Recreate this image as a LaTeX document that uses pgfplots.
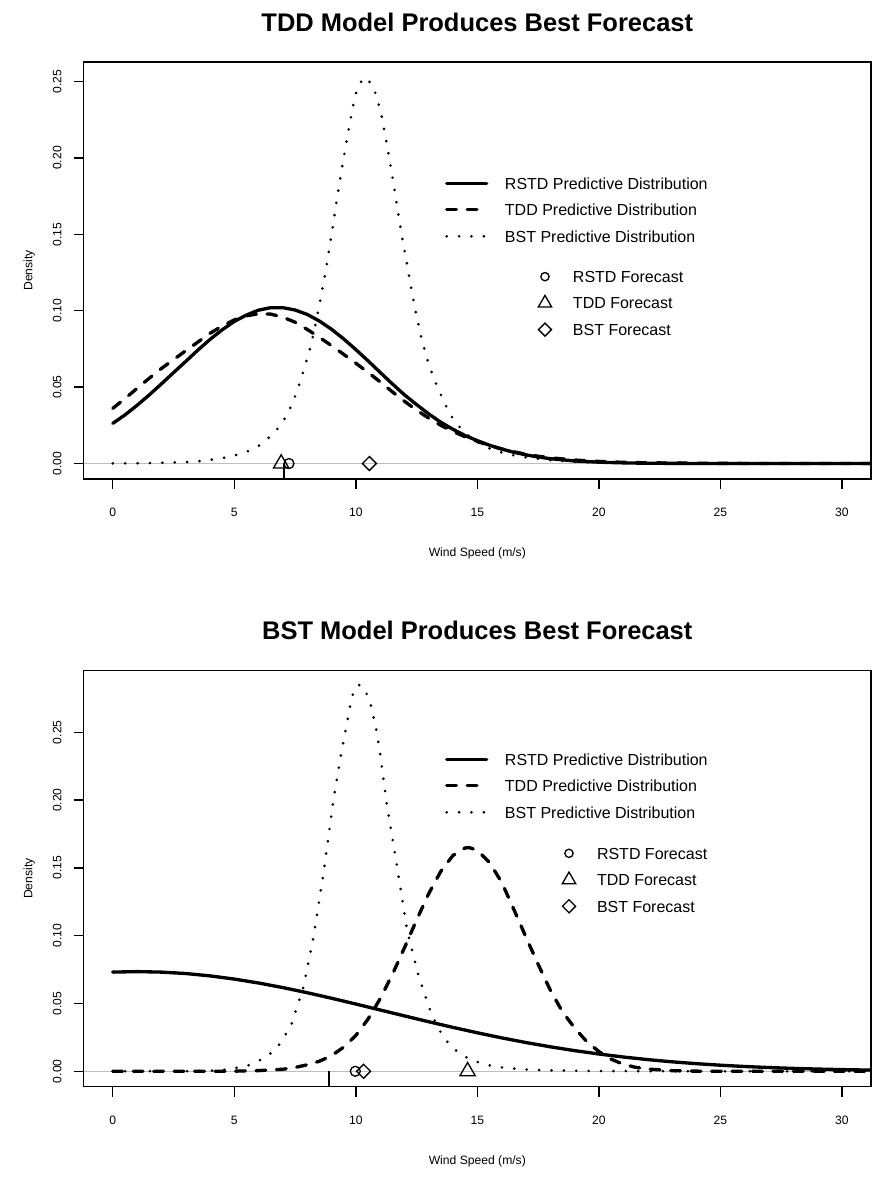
\documentclass[border=0pt]{standalone}
\usepackage{fontspec}
\setmainfont{Liberation Sans}
\usepackage{pgfplots}
\pgfplotsset{compat=1.18}
\definecolor{rgray}{HTML}{BEBEBE}
\pgfplotsset{
  common/.style={
    scale only axis, width=590.55pt,
    xmin=-1.2, xmax=31.2,
    axis line style={line width=1.1pt},
    tick style={line width=1.1pt, black},
    major tick length=7.5pt, tick align=outside,
    xtick pos=left, ytick pos=left,
    xtick={0,5,10,15,20,25,30}, xticklabels={0,5,10,15,20,25,30},
    ytick={0,0.05,0.1,0.15,0.2,0.25},
    yticklabels={0.00,0.05,0.10,0.15,0.20,0.25},
    ticklabel style={font=\fontsize{9.1}{11}\selectfont, inner sep=0pt},
    xticklabel style={anchor=base, yshift=-20.55pt},
    yticklabel style={rotate=90, anchor=base, yshift=9.1pt},
    xlabel={Wind Speed (m/s)}, ylabel={Density},
    label style={font=\fontsize{9.1}{11}\selectfont, inner sep=0pt},
    title style={font=\fontsize{19.1}{22}\selectfont\bfseries, anchor=base, inner sep=0pt, yshift=-6pt},
    legend style={draw=none, fill=none, inner sep=0pt, outer sep=0pt,
      font=\fontsize{12}{14}\selectfont, row sep=10.475pt, column sep=13.7pt,
      nodes={inner sep=0pt, text height=9pt, text depth=0.4pt}, anchor=north west},
    legend cell align=left,
  },
  rstd/.style={black, line width=2.5pt, line cap=round, line join=round},
  tdd/.style={black, line width=2.5pt, line cap=round, line join=round, dash pattern=on 7.35pt off 8pt},
  bst/.style={black, line width=2.2pt, line cap=round, dash pattern=on 0pt off 9.3pt},
}
\begin{document}
\begin{tikzpicture}
\useasboundingbox (0,0) rectangle (658.5pt,882.75pt);
% ================= TOP PANEL =================
\begin{axis}[common, at={(62.7pt,523.5pt)}, anchor=south west, height=312.75pt,
  ymin=-0.0101, ymax=0.2628,
  title={TDD Model Produces Best Forecast}, title style={at={(0.5,1.0743)}},
  xlabel style={at={(0.5,-0.1862)}, anchor=base},
  ylabel style={at={(-0.065,0.5)}, anchor=base},
  legend style={at={(0.4611,0.7241)}},
  legend image code/.code={\path[draw=none,fill=none] (0pt,-4.7pt) rectangle (30pt,4.7pt); \draw[overlay,#1] (0pt,0pt) -- (30pt,0pt);}]
\addplot[rgray, line width=1.1pt, forget plot] coordinates {(-1.2,0) (31.2,0)};
\addplot[rstd] coordinates {
(0,0.0263) (0.5,0.0318) (1,0.0381) (1.5,0.0449) (2,0.0521) (2.5,0.0595) (3,0.0668)
(3.5,0.0742) (4,0.0812) (4.5,0.0875) (5,0.0930) (5.5,0.0972) (6,0.1004) (6.5,0.1020)
(7,0.1020) (7.5,0.1005) (8,0.0976) (8.5,0.0933) (9,0.0879) (9.5,0.0816) (10,0.0746)
(10.5,0.0673) (11,0.0597) (11.5,0.0522) (12,0.0450) (12.5,0.0386) (13,0.0325)
(13.5,0.0270) (14,0.0224) (14.5,0.0183) (15,0.0150) (15.5,0.0120) (16,0.0095)
(16.5,0.0074) (17,0.0057) (17.5,0.0043) (18,0.0032) (19,0.0017) (20,0.0009)
(21,0.00045) (22,0.0002) (24,0.00005) (26,0.00001) (30,0) (32,0)};
\addlegendentry{RSTD Predictive Distribution}
\addplot[tdd] coordinates {
(0,0.0361) (0.5,0.0425) (1,0.0492) (1.5,0.0558) (2,0.0622) (2.5,0.0680) (3,0.0738)
(3.5,0.0795) (4,0.0852) (4.5,0.0900) (5,0.0940) (5.5,0.0967) (6,0.0980) (6.5,0.0978)
(7,0.0958) (7.5,0.0925) (8,0.0878) (8.5,0.0826) (9,0.0772) (9.5,0.0715) (10,0.0657)
(10.5,0.0597) (11,0.0535) (11.5,0.0470) (12,0.0408) (12.5,0.0350) (13,0.0297)
(13.5,0.0250) (14,0.0210) (14.5,0.0175) (15,0.0145) (15.5,0.0118) (16,0.0096)
(16.5,0.0077) (17,0.0061) (17.5,0.0048) (18,0.0038) (19,0.0023) (20,0.0014)
(21,0.0008) (22,0.0005) (24,0.0002) (26,0.00008) (30,0.00001) (32,0)};
\addlegendentry{TDD Predictive Distribution}
\addplot[bst] coordinates {
(0,0.0001) (1,0.0002) (2,0.0005) (2.5,0.0007) (3,0.0010) (3.5,0.0015) (4,0.0024)
(4.5,0.0035) (5,0.0052) (5.5,0.0076) (6,0.0115) (6.5,0.0180) (6.85,0.0240)
(7.14,0.0311) (7.36,0.0383) (7.55,0.0460) (7.71,0.0535) (7.87,0.0620) (8.02,0.0699)
(8.17,0.0780) (8.48,0.1020) (8.77,0.1266) (9.02,0.1515) (9.25,0.1760) (9.51,0.2008)
(9.69,0.2170) (9.88,0.2335) (10.0,0.2420) (10.19,0.2495) (10.45,0.2527) (10.76,0.2449)
(10.91,0.2368) (11.05,0.2287) (11.24,0.2122) (11.42,0.1958) (11.59,0.1796)
(11.75,0.1630) (11.92,0.1467) (12.11,0.1303) (12.29,0.1137) (12.49,0.0974)
(12.71,0.0813) (13.0,0.0651) (13.36,0.0499) (13.81,0.0344) (14.07,0.0276)
(14.41,0.0215) (14.81,0.0160) (15.22,0.0121) (15.65,0.0088) (16.13,0.0067)
(16.64,0.0049) (17.12,0.0038) (18,0.0022) (19,0.0012) (20,0.0007) (22,0.0002)
(25,0.00005) (30,0) (32,0)};
\addlegendentry{BST Predictive Distribution}
\addplot[black, line width=1.5pt, forget plot] coordinates {(7.03,0) (7.03,-0.0101)};
\addplot[only marks, mark=o, mark size=3.75pt, black, line width=1pt, forget plot] coordinates {(7.25,0)};
\addplot[only marks, mark=triangle, mark size=6.6pt, black, line width=1pt, forget plot] coordinates {(6.93,0)};
\addplot[only marks, mark=square, mark size=3.7pt, mark options={rotate=45}, black, line width=1pt, forget plot] coordinates {(10.56,0)};
\end{axis}
% legend 2 (top)
\begin{axis}[scale only axis, width=590.55pt, height=312.75pt, at={(62.7pt,523.5pt)}, anchor=south west,
  xmin=-1.2, xmax=31.2, ymin=-0.0101, ymax=0.2628, hide axis,
  legend style={draw=none, fill=none, inner sep=0pt, outer sep=0pt,
      font=\fontsize{12}{14}\selectfont, row sep=10.475pt, column sep=14pt,
      nodes={inner sep=0pt, text height=9pt, text depth=0.4pt}, anchor=north west, at={(0.5741,0.5002)}},
  legend cell align=left,
  legend image code/.code={\path[draw=none,fill=none] (-7pt,-4.7pt) rectangle (7pt,4.7pt); \draw[overlay,#1] plot coordinates {(0pt,0pt)};}]
\addplot[draw=none, forget plot] coordinates {(0,0)};
\addlegendimage{only marks, mark=o, mark size=3.1pt, black, line width=1pt}
\addlegendentry{RSTD Forecast}
\addlegendimage{only marks, mark=triangle, mark size=5.8pt, black, line width=1pt}
\addlegendentry{TDD Forecast}
\addlegendimage{only marks, mark=square, mark size=3.45pt, mark options={rotate=45}, black, line width=1pt}
\addlegendentry{BST Forecast}
\end{axis}
% ================= BOTTOM PANEL =================
\begin{axis}[common, at={(62.7pt,67.725pt)}, anchor=south west, height=312pt,
  ymin=-0.01136, ymax=0.2954,
  title={BST Model Produces Best Forecast}, title style={at={(0.5,1.0745)}},
  xlabel style={at={(0.5,-0.1867)}, anchor=base},
  ylabel style={at={(-0.065,0.5)}, anchor=base},
  legend style={at={(0.4611,0.8021)}},
  legend image code/.code={\path[draw=none,fill=none] (0pt,-4.7pt) rectangle (30pt,4.7pt); \draw[overlay,#1] (0pt,0pt) -- (30pt,0pt);}]
\addplot[rgray, line width=1.1pt, forget plot] coordinates {(-1.2,0) (31.2,0)};
\addplot[rstd] coordinates {
(0,0.07314) (1,0.0735) (2,0.07314) (3,0.07209) (4,0.07036) (5,0.06801) (6,0.06510)
(7,0.06172) (8,0.05794) (9,0.05387) (10,0.04961) (11,0.04523) (12,0.04085)
(13,0.03654) (14,0.03236) (15,0.02839) (16,0.02466) (17,0.02121) (18,0.01807)
(19,0.01525) (20,0.01275) (21,0.01055) (22,0.00864) (23,0.00701) (24,0.00564)
(25,0.00449) (26,0.00354) (27,0.00276) (28,0.00214) (29,0.00164) (30,0.00124)
(31,0.00093) (32,0.00069)};
\addlegendentry{RSTD Predictive Distribution}
\addplot[tdd] coordinates {
(0,0) (3,0.00001) (4,0.00003) (5,0.0001) (6,0.0005) (7,0.0015) (7.5,0.0028)
(8,0.0048) (8.5,0.0074) (9,0.0115) (9.5,0.0178) (10,0.0264) (10.5,0.0384)
(11,0.0534) (11.5,0.0712) (12,0.0910) (12.5,0.1115) (13,0.1310) (13.5,0.1475)
(14,0.1592) (14.5,0.1647) (14.65,0.1650) (15,0.1630) (15.5,0.1540) (16,0.1395)
(16.5,0.1195) (17,0.0990) (17.5,0.0790) (18,0.0600) (18.5,0.0440) (19,0.0320)
(19.5,0.0220) (20,0.0146) (20.5,0.0090) (21,0.0052) (21.5,0.0030) (22,0.0017)
(23,0.00045) (24,0.0001) (25,0.00002) (30,0) (32,0)};
\addlegendentry{TDD Predictive Distribution}
\addplot[bst] coordinates {
(0,0) (3,0.0001) (4,0.0004) (4.66,0.0012) (5.15,0.0027) (5.63,0.0046) (6.07,0.0083)
(6.5,0.0133) (6.86,0.0199) (7.14,0.0280) (7.37,0.0354) (7.85,0.0624) (8.26,0.0993)
(8.67,0.1460) (9.09,0.2013) (9.44,0.2386) (9.64,0.2570) (9.83,0.2755) (10.02,0.2841)
(10.2,0.2850) (10.38,0.2810) (10.58,0.2728) (10.82,0.2544) (10.99,0.2360)
(11.26,0.1988) (11.7,0.1509) (12.11,0.1042) (12.59,0.0698) (13.1,0.0428)
(13.55,0.0268) (13.87,0.0194) (14.26,0.0133) (14.7,0.0088) (15.17,0.0059)
(15.65,0.0037) (16.15,0.0025) (17,0.0013) (18,0.0007) (19,0.0004) (20,0.0002)
(22,0.0001) (25,0) (30,0) (32,0)};
\addlegendentry{BST Predictive Distribution}
\addplot[black, line width=1.5pt, forget plot] coordinates {(8.88,0) (8.88,-0.01136)};
\addplot[only marks, mark=o, mark size=3.75pt, black, line width=1pt, forget plot] coordinates {(9.98,0)};
\addplot[only marks, mark=triangle, mark size=6.6pt, black, line width=1pt, forget plot] coordinates {(14.6,0)};
\addplot[only marks, mark=square, mark size=3.7pt, mark options={rotate=45}, black, line width=1pt, forget plot] coordinates {(10.32,0)};
\end{axis}
% legend 2 (bottom)
\begin{axis}[scale only axis, width=590.55pt, height=312pt, at={(62.7pt,67.725pt)}, anchor=south west,
  xmin=-1.2, xmax=31.2, ymin=-0.01136, ymax=0.2954, hide axis,
  legend style={draw=none, fill=none, inner sep=0pt, outer sep=0pt,
      font=\fontsize{12}{14}\selectfont, row sep=10.475pt, column sep=14pt,
      nodes={inner sep=0pt, text height=9pt, text depth=0.4pt}, anchor=north west, at={(0.6046,0.5761)}},
  legend cell align=left,
  legend image code/.code={\path[draw=none,fill=none] (-7pt,-4.7pt) rectangle (7pt,4.7pt); \draw[overlay,#1] plot coordinates {(0pt,0pt)};}]
\addplot[draw=none, forget plot] coordinates {(0,0)};
\addlegendimage{only marks, mark=o, mark size=3.1pt, black, line width=1pt}
\addlegendentry{RSTD Forecast}
\addlegendimage{only marks, mark=triangle, mark size=5.8pt, black, line width=1pt}
\addlegendentry{TDD Forecast}
\addlegendimage{only marks, mark=square, mark size=3.45pt, mark options={rotate=45}, black, line width=1pt}
\addlegendentry{BST Forecast}
\end{axis}
\end{tikzpicture}
\end{document}
